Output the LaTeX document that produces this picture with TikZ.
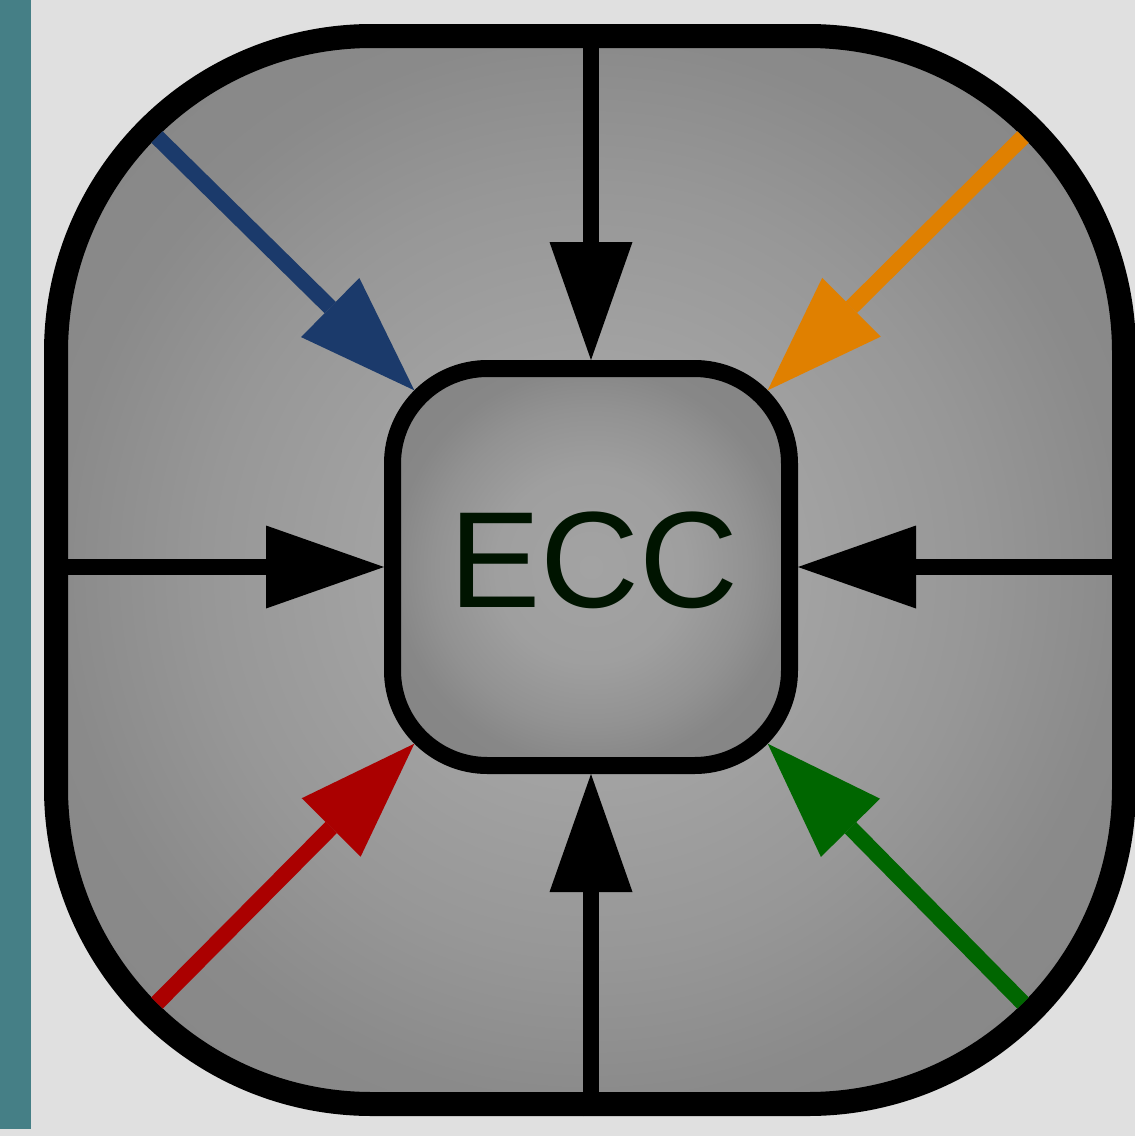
\documentclass[tikz,border=0pt]{standalone}
\usepackage{fontspec}
\setmainfont{Liberation Sans}
\usetikzlibrary{arrows.meta,calc}
\definecolor{bgcol}{HTML}{E0E0E0}
\definecolor{stripcol}{HTML}{457F86}
\definecolor{blueA}{HTML}{1B3A6B}
\definecolor{orangeA}{HTML}{E08000}
\definecolor{redA}{HTML}{AA0000}
\definecolor{greenA}{HTML}{006600}
\definecolor{txtcol}{HTML}{001400}
\definecolor{fa}{HTML}{A8A8A8}
\definecolor{fb}{HTML}{A2A2A2}
\definecolor{fc}{HTML}{979797}
\definecolor{fd}{HTML}{8A8A8A}
\definecolor{fe}{HTML}{858585}
\definecolor{ca}{HTML}{A3A3A3}
\definecolor{cb}{HTML}{9F9F9F}
\definecolor{cc}{HTML}{929292}
\definecolor{cd}{HTML}{878787}
\definecolor{ce}{HTML}{838383}
\pgfdeclareradialshading{framesh}{\pgfpoint{0bp}{0bp}}{color(0bp)=(fa); color(10bp)=(fb); color(18bp)=(fc); color(25bp)=(fd); color(36bp)=(fe)}
\pgfdeclareradialshading{coresh}{\pgfpoint{0bp}{0bp}}{color(0bp)=(ca); color(12bp)=(cb); color(20bp)=(cc); color(25bp)=(cd); color(36bp)=(ce)}
\begin{document}
\begin{tikzpicture}[x=1pt,y=-1pt,
  frame/.style={draw=black, line width=24pt, rounded corners=316pt,
    minimum width=1068pt, minimum height=1068pt, inner sep=0pt, shading=framesh},
  core/.style={draw=black, line width=17pt, rounded corners=95pt,
    minimum width=397pt, minimum height=397pt, inner sep=0pt, shading=coresh},
  arr/.style={line width=16pt, -{Triangle[length=118pt,width=83pt,line width=0pt]}},
  lab/.style={text=txtcol, font=\fontsize{137}{140}\selectfont, anchor=base, inner sep=0pt}
]
\useasboundingbox (0,0) rectangle (1135,1136);
\fill[bgcol] (0,0) rectangle (1135,1136);
\fill[stripcol] (0,0) rectangle (31,1129);

\node[frame] (frame) at (590,570) {};
\node[core] (ecc) at (591,567) {};
\node[lab] (label) at (594,607) {ECC};

\coordinate (bs) at (157,137);
\coordinate (bt) at ($(ecc.center)+(-176.7,-176.7)$);
\coordinate (os) at (1023,137);
\coordinate (ot) at ($(ecc.center)+(176.7,-176.7)$);
\coordinate (rs) at (157,1003);
\coordinate (rt) at ($(ecc.center)+(-176.7,176.7)$);
\coordinate (gs) at (1023,1003);
\coordinate (gt) at ($(ecc.center)+(176.7,176.7)$);

\draw[arr] (ecc.north |- frame.north) -- (ecc.north);
\draw[arr] (ecc.south |- frame.south) -- (ecc.south);
\draw[arr] (frame.west |- ecc.west) -- (ecc.west);
\draw[arr] (frame.east |- ecc.east) -- (ecc.east);

\draw[arr, draw=blueA, fill=blueA] (bs) -- (bt);
\draw[arr, draw=orangeA, fill=orangeA] (os) -- (ot);
\draw[arr, draw=redA, fill=redA] (rs) -- (rt);
\draw[arr, draw=greenA, fill=greenA] (gs) -- (gt);
\end{tikzpicture}
\end{document}
